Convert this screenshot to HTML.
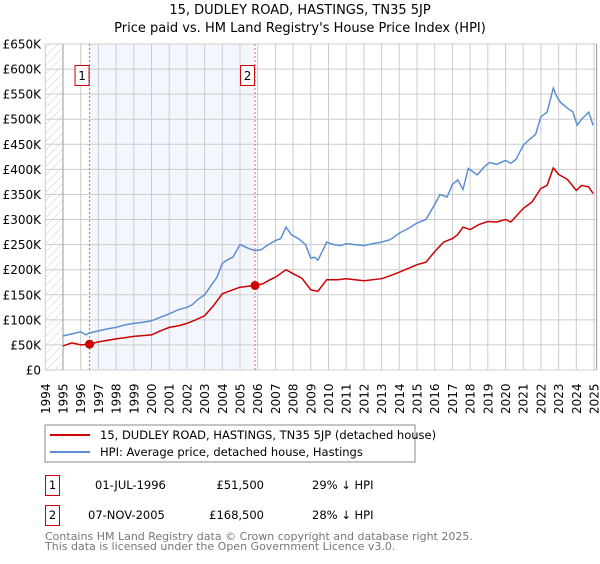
<!DOCTYPE html>
<html><head><meta charset="utf-8"><style>
body{margin:0;background:#fff;font-family:"DejaVu Sans","Liberation Sans",sans-serif;}
svg text{font-family:"DejaVu Sans","Liberation Sans",sans-serif;}
</style></head><body>
<svg id="c" width="600" height="560" xmlns="http://www.w3.org/2000/svg">
<defs><pattern id="hatch" width="6" height="6" patternUnits="userSpaceOnUse" patternTransform="rotate(45)"><line x1="0" y1="0" x2="0" y2="6" stroke="#ccc" stroke-width="1"/></pattern></defs>
<text x="300" y="14" text-anchor="middle" font-size="13">15, DUDLEY ROAD, HASTINGS, TN35 5JP</text>
<text x="300" y="32" text-anchor="middle" font-size="13">Price paid vs. HM Land Registry's House Price Index (HPI)</text>
<g id="plot"></g>
<g>
<rect x="45" y="425" width="370" height="37" fill="#fff" stroke="#888"/>
<line x1="50" y1="435" x2="90" y2="435" stroke="#cc0000" stroke-width="2"/>
<text x="100" y="439" font-size="11.5">15, DUDLEY ROAD, HASTINGS, TN35 5JP (detached house)</text>
<line x1="50" y1="452" x2="90" y2="452" stroke="#5b8fd1" stroke-width="2"/>
<text x="100" y="456" font-size="11.5">HPI: Average price, detached house, Hastings</text>
</g>
<g font-size="11.5">
<rect x="45.5" y="475.5" width="14" height="20" fill="#fff" stroke="#cc0000"/>
<text x="52.5" y="489" text-anchor="middle">1</text>
<text x="95" y="489">01-JUL-1996</text>
<text x="264" y="489" text-anchor="end">£51,500</text>
<text x="312" y="489">29% ↓ HPI</text>
<rect x="45.5" y="505.5" width="14" height="20" fill="#fff" stroke="#cc0000"/>
<text x="52.5" y="519" text-anchor="middle">2</text>
<text x="88" y="519">07-NOV-2005</text>
<text x="264" y="519" text-anchor="end">£168,500</text>
<text x="312" y="519">28% ↓ HPI</text>
</g>
<text x="45" y="540" font-size="11" fill="#777">Contains HM Land Registry data © Crown copyright and database right 2025.</text>
<text x="45" y="550" font-size="11" fill="#777">This data is licensed under the Open Government Licence v3.0.</text>
</svg>
<script>
const hpiYears=[1995,1995.5,1996,1996.3,1996.5,1997,1997.5,1998,1998.5,1999,1999.5,2000,2000.5,2001,2001.5,2002,2002.3,2002.6,2003,2003.3,2003.7,2004,2004.4,2004.6,2005,2005.5,2005.85,2006.2,2006.6,2007,2007.3,2007.6,2007.9,2008.3,2008.7,2009,2009.2,2009.4,2009.7,2009.9,2010.3,2010.7,2011,2011.5,2012,2012.5,2013,2013.5,2014,2014.5,2015,2015.5,2016,2016.3,2016.7,2017,2017.3,2017.6,2017.9,2018.4,2018.8,2019.1,2019.5,2020,2020.3,2020.6,2021,2021.3,2021.7,2022,2022.35,2022.7,2022.9,2023.1,2023.5,2023.8,2024.05,2024.3,2024.7,2024.95];
const hpiValues=[68000,72000,76000,70000,74000,78000,82000,85000,90000,93000,95000,98000,105000,112000,120000,125000,130000,140000,150000,165000,185000,213000,222000,225000,250000,242000,238000,240000,250000,258000,262000,285000,270000,262000,250000,223000,225000,219000,240000,255000,250000,248000,252000,250000,248000,252000,255000,260000,273000,282000,293000,300000,330000,350000,345000,370000,379000,360000,402000,389000,405000,414000,410000,418000,412000,420000,448000,458000,470000,505000,514000,562000,545000,534000,522000,515000,488000,500000,514000,488000];
const ppYears=[1995,1995.5,1996,1996.5,1997,1998,1999,2000,2000.5,2001,2001.5,2002,2002.5,2003,2003.5,2004,2004.6,2005,2005.85,2006.3,2006.7,2007,2007.6,2008,2008.5,2009,2009.4,2009.9,2010.5,2011,2012,2013,2013.5,2014,2015,2015.5,2016,2016.5,2017,2017.3,2017.6,2018,2018.5,2019,2019.5,2020,2020.3,2021,2021.5,2022,2022.35,2022.7,2023,2023.5,2024,2024.3,2024.7,2024.95];
const ppValues=[48000,54000,50000,51500,56000,62000,67000,70000,78000,85000,88000,93000,100000,108000,128000,152000,160000,165000,168500,172000,180000,185000,200000,192000,183000,160000,157000,180000,180000,182000,178000,182000,188000,195000,210000,215000,236000,255000,262000,270000,285000,280000,290000,296000,295000,300000,295000,322000,335000,362000,368000,403000,390000,380000,358000,368000,365000,352000];
const yTicks=[0,50000,100000,150000,200000,250000,300000,350000,400000,450000,500000,550000,600000,650000];
const yTickLabels=["£0","£50K","£100K","£150K","£200K","£250K","£300K","£350K","£400K","£450K","£500K","£550K","£600K","£650K"];
const xTickYears=[1994,1995,1996,1997,1998,1999,2000,2001,2002,2003,2004,2005,2006,2007,2008,2009,2010,2011,2012,2013,2014,2015,2016,2017,2018,2019,2020,2021,2022,2023,2024,2025];
const saleYears=[1996.5,2005.85];
const saleValues=[51500,168500];
const saleLabels=["1","2"];
const X=y=>45.3+(y-1994)*17.7;
const Y=v=>370-v/650000*326;
const NS="http://www.w3.org/2000/svg";
const g=document.getElementById('plot');
function mk(t,a){const e=document.createElementNS(NS,t);for(const k in a)e.setAttribute(k,a[k]);g.appendChild(e);return e;}
let e;
e=mk('rect',{x:X(1996.5),y:44,width:X(2005.85)-X(1996.5),height:326,fill:'#eef3fc',opacity:0.7});


e=mk('rect',{x:X(1994),y:44,width:X(1995)-X(1994),height:326,fill:'url(#hatch)'});


yTicks.forEach((v,i)=>{
 e=mk('line',{x1:X(1994),x2:597,y1:Y(v),y2:Y(v),stroke:'#ccc'});
 
 
 e=mk('text',{x:41,y:Y(v)+4.5,'text-anchor':'end','font-size':12});
 e.textContent=yTickLabels[i];
 
 
});
xTickYears.forEach(y=>{
 e=mk('line',{x1:X(y),x2:X(y),y1:44,y2:370,stroke:'#ccc'});
 
 
 const tx=X(y)+4.5;
 e=mk('text',{x:tx,y:414,'font-size':12,transform:`rotate(-90 ${tx} 414)`});
 e.textContent=y;
 
 
});
e=mk('line',{x1:X(1995),x2:X(1995),y1:44,y2:370,stroke:'#999'});


e=mk('line',{x1:X(2025.15),x2:X(2025.15),y1:44,y2:370,stroke:'#999'});


saleYears.forEach((y,i)=>{
 e=mk('line',{x1:X(y),x2:X(y),y1:44,y2:370,stroke:'#e06666','stroke-dasharray':'2,2'});
 
 
 e=mk('rect',{x:X(y)-14.5,y:65.5,width:14,height:20,fill:'#fff',stroke:'#cc0000'});
 
 
 e=mk('text',{x:X(y)-7.5,y:80,'text-anchor':'middle','font-size':12});
 e.textContent=saleLabels[i];
 
 
});
function path(xs,vs){return xs.map((x,i)=>(i?'L':'M')+X(x).toFixed(1)+','+Y(vs[i]).toFixed(1)).join('');}
e=mk('path',{d:path(hpiYears,hpiValues),fill:'none',stroke:'#5b8fd1','stroke-width':1.5});


e=mk('path',{d:path(ppYears,ppValues),fill:'none',stroke:'#cc0000','stroke-width':1.5});


saleYears.forEach((y,i)=>{
 e=mk('circle',{cx:X(y),cy:Y(saleValues[i]),r:4.5,fill:'#cc0000'});
 
 
});
</script>
</body></html>
